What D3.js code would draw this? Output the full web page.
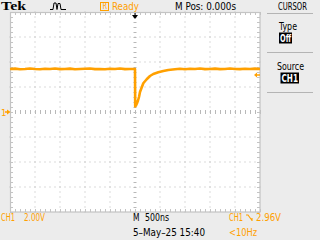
<!DOCTYPE html>
<html><head><meta charset="utf-8">
<script src="https://cdn.jsdelivr.net/npm/d3@7"></script>
<style>
html,body{margin:0;padding:0;background:#ececec;}
svg{display:block;}
text{font-family:"DejaVu Sans Condensed","Liberation Sans Narrow","DejaVu Sans",sans-serif;}
</style></head>
<body>
<svg id="c" width="320" height="240"></svg>
<script>
// ---- data ----
const timeUs = [-2.5,-2.4,-2.3,-2.2,-2.1,-2.0,-1.9,-1.8,-1.7,-1.6,-1.5,-1.4,-1.3,-1.2,-1.1,-1.0,-0.9,-0.8,-0.7,-0.6,-0.5,-0.4,-0.3,-0.2,-0.1,0.0,
  0.004,0.02,0.04,0.06,0.08,0.1,0.166,0.234,0.3,0.366,0.466,0.566,0.666,0.8,0.9,1.0,1.1,1.2,1.3,1.4,1.5,1.6,1.7,1.8,1.9,2.0,2.1,2.2,2.3,2.4,2.5];
const volts = [3.44,3.47,3.42,3.44,3.48,3.44,3.42,3.46,3.44,3.48,3.43,3.44,3.47,3.42,3.44,3.46,3.48,3.43,3.44,3.42,3.46,3.44,3.48,3.43,3.44,3.44,
  0.44,0.52,0.70,0.92,1.20,1.60,2.30,2.62,2.88,3.04,3.18,3.28,3.36,3.42,3.46,3.42,3.46,3.44,3.48,3.43,3.44,3.47,3.43,3.44,3.48,3.44,3.43,3.46,3.44,3.47,3.44];
const timeDomain = [-2.5, 2.5];   // µs, 500ns/div
const voltDomain = [-8, 8];       // V, 2.00V/div
const triggerLevel = 2.96;
const topLabels = {tek:"Tek", ready:"Ready", mpos:"M Pos: 0.000s", menu:"CURSOR"};
const menuItems = [{label:"Type", value:"Off"}, {label:"Source", value:"CH1"}];
const bottomLabels = {ch:"CH1", scale:"2.00V", m:"M", tb:"500ns", date:"5\u2013May\u201325 15:40", trigCh:"CH1", trigLvl:"2.96V", freq:"<10Hz"};

// ---- drawing ----
const svg = d3.select("#c");
const ORANGE = "#ffa000", GRID = "#b8b8b8", BORDER = "#c4c4c4";
svg.append("rect").attr("width",320).attr("height",240).attr("fill","#ececec");

const x = d3.scaleLinear().domain(timeDomain).range([10, 260]);
const y = d3.scaleLinear().domain(voltDomain).range([212, 12]);

svg.append("rect").attr("x",10).attr("y",12).attr("width",250).attr("height",200).attr("fill","#fff");

const xMajor = x.ticks(10), yMajor = y.ticks(8);
const xMinor = d3.range(-25, 26).map(d => d/10);
const yMinor = d3.range(-20, 21).map(d => d*0.4);
const g = svg.append("g");
// dotted grid
xMajor.filter(t => t > timeDomain[0] && t < timeDomain[1] && t !== 0).forEach(t => {
  yMinor.forEach(v => g.append("rect").attr("x", x(t)-0.5).attr("y", y(v)-0.5).attr("width",1).attr("height",1).attr("fill",GRID));
});
yMajor.filter(v => v > voltDomain[0] && v < voltDomain[1] && v !== 0).forEach(v => {
  xMinor.forEach(t => g.append("rect").attr("x", x(t)-0.5).attr("y", y(v)-0.5).attr("width",1).attr("height",1).attr("fill",GRID));
});
// center axes ticks
yMinor.forEach(v => g.append("line").attr("x1",x(0)-1.5).attr("x2",x(0)+1.5).attr("y1",Math.round(y(v))+0.5).attr("y2",Math.round(y(v))+0.5).attr("stroke",GRID));
xMinor.forEach(t => g.append("line").attr("x1",Math.round(x(t))+0.5).attr("x2",Math.round(x(t))+0.5).attr("y1",y(0)-2).attr("y2",y(0)+2).attr("stroke",GRID));
// border ticks
yMinor.forEach(v => {
  g.append("line").attr("x1",10).attr("x2",13).attr("y1",Math.round(y(v))+0.5).attr("y2",Math.round(y(v))+0.5).attr("stroke",BORDER);
  g.append("line").attr("x1",257).attr("x2",260).attr("y1",Math.round(y(v))+0.5).attr("y2",Math.round(y(v))+0.5).attr("stroke",BORDER);
});
xMinor.forEach(t => {
  g.append("line").attr("x1",Math.round(x(t))+0.5).attr("x2",Math.round(x(t))+0.5).attr("y1",12).attr("y2",15).attr("stroke",BORDER);
  g.append("line").attr("x1",Math.round(x(t))+0.5).attr("x2",Math.round(x(t))+0.5).attr("y1",209).attr("y2",212).attr("stroke",BORDER);
});
g.append("rect").attr("x",10.5).attr("y",12.5).attr("width",249.5).attr("height",199.5).attr("fill","none").attr("stroke",BORDER).attr("stroke-width",1.2);

// trace
const line = d3.line().x((d,i) => x(timeUs[i])).y(d => y(d));
svg.append("path").datum(volts).attr("d", line).attr("fill","none").attr("stroke",ORANGE).attr("stroke-width",2.6).attr("stroke-linejoin","round");

// markers
svg.append("path").attr("d", `M${x(0)-3},15 H${x(0)+3} L${x(0)},19 Z`).attr("fill","#000");
svg.append("path").attr("d", `M${x(0)-0.5},13 h1 v3 h-1 Z`).attr("fill","#000");
const ty = y(triggerLevel);
svg.append("path").attr("d", `M254,${ty} L257,${ty-2.5} L257,${ty+2.5} Z`).attr("fill",ORANGE);
svg.append("line").attr("x1",256).attr("x2",260).attr("y1",ty).attr("y2",ty).attr("stroke",ORANGE).attr("stroke-width",1.5);
const gy = y(0);
svg.append("text").attr("x",1).attr("y",gy+4).attr("font-size",9.5).attr("fill",ORANGE).text("1");
svg.append("line").attr("x1",5).attr("x2",8).attr("y1",gy).attr("y2",gy).attr("stroke",ORANGE).attr("stroke-width",1.5);
svg.append("path").attr("d", `M7,${gy-2.5} L10.5,${gy} L7,${gy+2.5} Z`).attr("fill",ORANGE);

// text helper
function txt(s, x0, yb, w, fill, opts={}) {
  const t = svg.append("text").attr("x",x0).attr("y",yb).attr("font-size",opts.size||10.5).attr("fill",fill)
    .attr("textLength",w).attr("lengthAdjust","spacingAndGlyphs").text(s);
  if (opts.weight) t.attr("font-weight",opts.weight);
  if (opts.family) t.style("font-family",opts.family);
  return t;
}
// top bar
txt(topLabels.tek, 1, 10, 25, "#000", {size:12, weight:"bold", family:"'Liberation Serif','DejaVu Serif',serif"});
svg.append("path").attr("d","M50,9.5 H53 L54,3 H56 L57,9.5 L58,3.5 H60 L61,9.5 H66").attr("fill","none").attr("stroke","#000").attr("stroke-width",1);
svg.append("rect").attr("x",100.5).attr("y",2.5).attr("width",8).attr("height",8).attr("fill","none").attr("stroke",ORANGE);
txt("R", 102.5, 9, 4.5, ORANGE, {size:8});
txt(topLabels.ready, 112, 9.5, 27, ORANGE, {size:11});
txt(topLabels.mpos, 175, 9.5, 61, "#000", {size:11});
txt(topLabels.menu, 278, 9.5, 29, "#000", {size:11});

// right menu
const sepY = [13, 52, 92];
sepY.forEach(s => svg.append("line").attr("x1",267).attr("x2",313).attr("y1",s+0.5).attr("y2",s+0.5).attr("stroke","#b4b4b4").attr("stroke-width",1.2));
const itemTop = [22, 62];
menuItems.forEach((m, i) => {
  const t0 = itemTop[i];
  const lw = i === 0 ? 18 : 27, lx = i === 0 ? 279 : 277;
  txt(m.label, lx, t0+8, lw, "#000", {size:11});
  const bw = i === 0 ? 13 : 18.5, bx = i === 0 ? 279 : 280.5;
  svg.append("rect").attr("x",bx).attr("y",t0+10.5).attr("width",bw).attr("height",11).attr("fill","#000");
  txt(m.value, bx+1, t0+19.5, bw-2, "#fff", {size:11, weight:"bold"});
});

// bottom
txt(bottomLabels.ch, 1, 221, 14, ORANGE);
txt(bottomLabels.scale, 24, 221, 21, ORANGE);
txt(bottomLabels.m, 133, 221, 6.5, "#000");
txt(bottomLabels.tb, 145, 221, 24, "#000");
txt(bottomLabels.date, 133, 236, 72, "#000");
txt(bottomLabels.trigCh, 229, 221, 14, ORANGE);
svg.append("path").attr("d","M246,215 H248 L252,220.5 M252,218 V221").attr("fill","none").attr("stroke",ORANGE).attr("stroke-width",1.1);
txt(bottomLabels.trigLvl, 256, 221, 25, ORANGE);
txt(bottomLabels.freq, 229, 236, 28, ORANGE);
</script>
</body></html>
